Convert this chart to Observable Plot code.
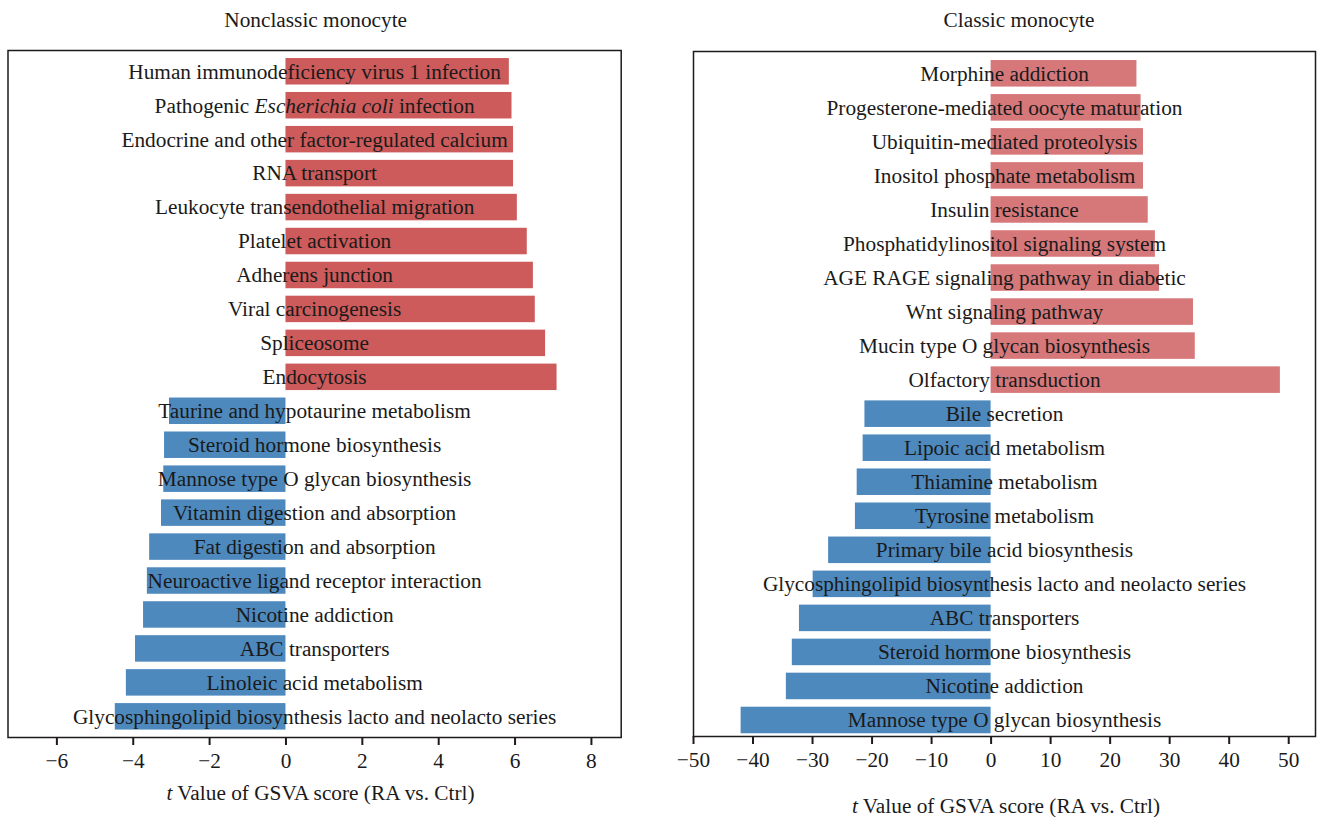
<!DOCTYPE html>
<html>
<head>
<meta charset="utf-8">
<script src="https://cdn.jsdelivr.net/npm/d3@7"></script>
<script src="https://cdn.jsdelivr.net/npm/@observablehq/plot@0.6"></script>
<style>
  body { margin: 0; background: #fff; }
  #wrap { position: relative; width: 1321px; height: 817px; font-family: "Liberation Serif", serif; color: #1a1a1a; }
  #wrap svg { position: absolute; top: 0; overflow: visible; }
  .ttl, .xl { position: absolute; font-size: 21.3px; white-space: nowrap; transform: translate(-50%, -50%); }
</style>
</head>
<body>
<div id="wrap"></div>
<script>
// Nonclassic monocyte (top to bottom)
const leftNames = [
  "Human immunodeficiency virus 1 infection",
  "Pathogenic Escherichia coli infection",
  "Endocrine and other factor-regulated calcium",
  "RNA transport",
  "Leukocyte transendothelial migration",
  "Platelet activation",
  "Adherens junction",
  "Viral carcinogenesis",
  "Spliceosome",
  "Endocytosis",
  "Taurine and hypotaurine metabolism",
  "Steroid hormone biosynthesis",
  "Mannose type O glycan biosynthesis",
  "Vitamin digestion and absorption",
  "Fat digestion and absorption",
  "Neuroactive ligand receptor interaction",
  "Nicotine addiction",
  "ABC transporters",
  "Linoleic acid metabolism",
  "Glycosphingolipid biosynthesis lacto and neolacto series"
];
const leftValues = [5.85, 5.92, 5.96, 5.96, 6.06, 6.32, 6.48, 6.53, 6.80, 7.10,
  -3.05, -3.18, -3.20, -3.26, -3.57, -3.63, -3.73, -3.94, -4.18, -4.47];

// Classic monocyte (top to bottom)
const rightNames = [
  "Morphine addiction",
  "Progesterone-mediated oocyte maturation",
  "Ubiquitin-mediated proteolysis",
  "Inositol phosphate metabolism",
  "Insulin resistance",
  "Phosphatidylinositol signaling system",
  "AGE RAGE signaling pathway in diabetic",
  "Wnt signaling pathway",
  "Mucin type O glycan biosynthesis",
  "Olfactory transduction",
  "Bile secretion",
  "Lipoic acid metabolism",
  "Thiamine metabolism",
  "Tyrosine metabolism",
  "Primary bile acid biosynthesis",
  "Glycosphingolipid biosynthesis lacto and neolacto series",
  "ABC transporters",
  "Steroid hormone biosynthesis",
  "Nicotine addiction",
  "Mannose type O glycan biosynthesis"
];
const rightValues = [24.5, 25.2, 25.6, 25.6, 26.4, 27.6, 28.3, 34.0, 34.3, 48.6,
  -21.2, -21.5, -22.5, -22.8, -27.3, -29.9, -32.2, -33.4, -34.4, -42.0];

const leftTicks = [-6, -4, -2, 0, 2, 4, 6, 8];
const rightTicks = [-50, -40, -30, -20, -10, 0, 10, 20, 30, 40, 50];

const titles = ["Nonclassic monocyte", "Classic monocyte"];
const xLabel = "Value of GSVA score (RA vs. Ctrl)";

const leftRed = "#cd5b5b", rightRed = "#d6787a", blue = "#4e89be";

function panel(names, values, opts) {
  const data = names.map((n, i) => ({name: n, value: values[i]}));
  return Plot.plot({
    width: opts.width,
    height: opts.height,
    marginLeft: opts.ml,
    marginRight: opts.mr,
    marginTop: opts.mt,
    marginBottom: opts.mb,
    style: {fontFamily: "'Liberation Serif', serif", fontSize: "21.3px", color: "#1a1a1a", background: "transparent"},
    x: {domain: opts.xDomain, ticks: opts.ticks, tickSize: 8, tickPadding: 7, label: null},
    y: {domain: names, range: opts.yRange, paddingInner: 0.22, paddingOuter: 0.11, round: false, axis: null},
    color: {type: "identity"},
    marks: [
      Plot.barX(data, {x: "value", y: "name", fill: d => d.value > 0 ? opts.red : blue}),
      Plot.text(data, {y: "name", text: "name", fontSize: 21.3, fill: "#1a1a1a", textAnchor: "middle"}),
      Plot.frame({stroke: "#1e1a1a", strokeWidth: 1.5})
    ]
  });
}

const wrap = document.getElementById("wrap");

const left = panel(leftNames, leftValues, {
  width: 640, height: 777, ml: 7.5, mr: 19.3, mt: 50, mb: 40,
  xDomain: [-7.28, 8.78], ticks: leftTicks, yRange: [54.3, 733.3], red: leftRed
});
left.style.left = "0px";
wrap.appendChild(left);

const right = panel(rightNames, rightValues, {
  width: 661, height: 776, ml: 33, mr: 6, mt: 51, mb: 40,
  xDomain: [-50, 54.5], ticks: rightTicks, yRange: [56.3, 737], red: rightRed
});
right.style.left = "660px";
wrap.appendChild(right);

// italic species name
for (const svg of [left, right]) {
  svg.querySelectorAll("text").forEach(t => {
    if (t.textContent === "Pathogenic Escherichia coli infection") {
      t.textContent = "";
      const parts = [["Pathogenic ", false], ["Escherichia coli", true], [" infection", false]];
      for (const [s, it] of parts) {
        const ts = document.createElementNS("http://www.w3.org/2000/svg", "tspan");
        ts.textContent = s;
        if (it) ts.setAttribute("font-style", "italic");
        t.appendChild(ts);
      }
    }
  });
  svg.querySelectorAll("[aria-label='x-axis tick'] path, [aria-label='x-axis tick']").forEach(p => {
    p.setAttribute("stroke-width", "2");
    p.setAttribute("stroke", "#1e1a1a");
  });
}

function addText(cls, html, x, y) {
  const d = document.createElement("div");
  d.className = cls;
  d.innerHTML = html;
  d.style.left = x + "px";
  d.style.top = y + "px";
  wrap.appendChild(d);
}
addText("ttl", titles[0], 315.7, 20);
addText("ttl", titles[1], 1019, 20);
addText("xl", "<i>t</i> " + xLabel, 320.5, 793);
addText("xl", "<i>t</i> " + xLabel, 1006, 806);
</script>
</body>
</html>
